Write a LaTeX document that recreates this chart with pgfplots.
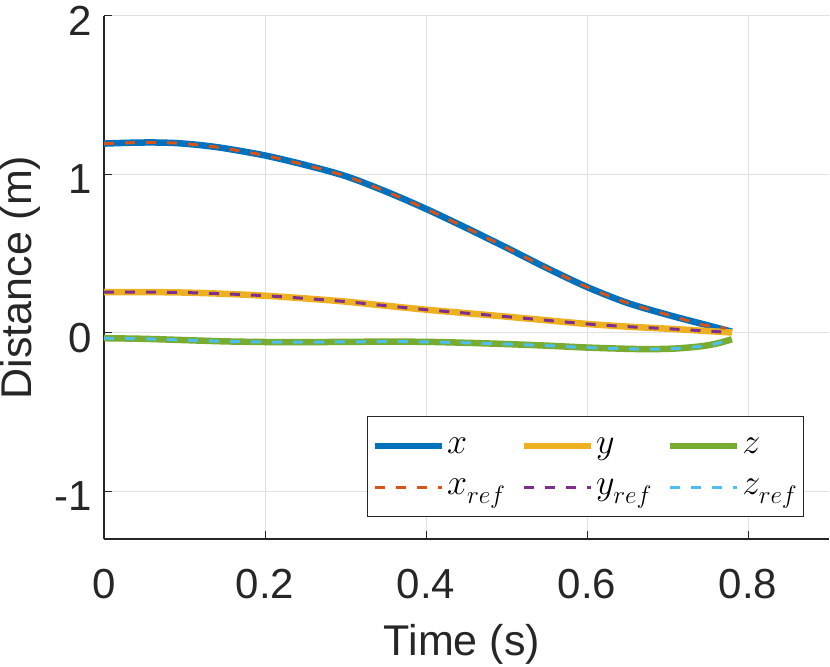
\documentclass[border=0pt]{standalone}
\usepackage{fontspec}
\setmainfont{Liberation Sans}
\DeclareFontShape{OML}{cmm}{m}{it}{<->cmmi12}{}
\usepackage{pgfplots}
\pgfplotsset{compat=1.18}
\definecolor{mblue}{rgb}{0,0.447,0.741}
\definecolor{morange}{rgb}{0.85,0.325,0.098}
\definecolor{myellow}{rgb}{0.929,0.694,0.125}
\definecolor{mpurple}{rgb}{0.494,0.184,0.556}
\definecolor{mgreen}{rgb}{0.466,0.674,0.188}
\definecolor{mcyan}{rgb}{0.301,0.745,0.933}
\definecolor{axgray}{rgb}{0.15,0.15,0.15}

\pgfplotstableread{
t v
0 1.195
0.03 1.200
0.06 1.202
0.09 1.198
0.12 1.185
0.15 1.165
0.2 1.12
0.25 1.06
0.3 0.99
0.35 0.893
0.4 0.783
0.45 0.663
0.5 0.538
0.55 0.41
0.6 0.29
0.65 0.19
0.7 0.115
0.75 0.048
0.78 0.008
}\xdata
\pgfplotstableread{
t v
0 1.195
0.03 1.200
0.06 1.202
0.09 1.198
0.12 1.185
0.15 1.165
0.2 1.12
0.25 1.06
0.3 0.99
0.35 0.893
0.4 0.783
0.45 0.663
0.5 0.538
0.55 0.41
0.6 0.29
0.65 0.19
0.7 0.115
0.745 0.05
0.772 0.03
}\xrefdata
\pgfplotstableread{
t v
0 0.258
0.05 0.258
0.1 0.255
0.15 0.247
0.2 0.235
0.25 0.218
0.3 0.198
0.35 0.172
0.4 0.147
0.45 0.125
0.5 0.103
0.55 0.08
0.6 0.057
0.65 0.04
0.7 0.027
0.75 0.012
0.78 0.003
}\ydata
\pgfplotstableread{
t v
0 -0.033
0.05 -0.037
0.1 -0.045
0.15 -0.053
0.2 -0.057
0.25 -0.058
0.3 -0.056
0.35 -0.055
0.4 -0.056
0.45 -0.062
0.5 -0.07
0.55 -0.08
0.6 -0.092
0.65 -0.1
0.68 -0.102
0.71 -0.098
0.74 -0.085
0.76 -0.068
0.78 -0.04
}\zdata

\begin{document}
\begin{tikzpicture}
\begin{axis}[
  scale only axis,
  width=724.5pt, height=523pt,
  xmin=0, xmax=0.9, ymin=-1.3, ymax=2,
  axis x line*=bottom, axis y line*=left,
  axis line style={axgray, line width=1.2pt},
  xtick={0,0.2,0.4,0.6,0.8}, xticklabels={0,0.2,0.4,0.6,0.8},
  ytick={-1,0,1,2}, yticklabels={-1,0,1,2},
  tick align=inside, major tick length=8pt,
  tick style={axgray, line width=1pt},
  grid=major, major grid style={black!12, line width=1pt},
  xticklabel style={font=\fontsize{42}{50}\selectfont, text=axgray, anchor=base, inner sep=0pt, yshift=-59pt},
  yticklabel style={font=\fontsize{42}{50}\selectfont, text=axgray, anchor=east, inner sep=0pt, xshift=-12pt, yshift=-5pt},
  xlabel={Time (s)}, ylabel={Distance (m)},
  xlabel style={font=\fontsize{43}{50}\selectfont, text=axgray, at={(axis description cs:0.494,-0.2218)}, anchor=base, inner sep=0pt},
  ylabel style={font=\fontsize{43}{50}\selectfont, text=axgray, at={(axis description cs:-0.1435,0.5)}, anchor=north, inner sep=0pt},
  legend columns=3,
  legend cell align=left,
  legend image code/.code={\draw[#1] (0pt,0pt) -- (67pt,0pt);},
  legend style={at={(rel axis cs:0.363,0.235)}, anchor=north west,
    draw=axgray, line width=1pt, fill=white,
    font=\fontsize{36}{40}\selectfont,
    inner xsep=4pt, inner ysep=19pt, row sep=20pt,
    /tikz/every even column/.append style={column sep=13pt}},
  every axis plot/.append style={smooth},
]
\addplot[mblue, line width=6.5pt] table[x=t,y=v] {\xdata};
\addlegendentry{$x$}
\addplot[myellow, line width=6.5pt] table[x=t,y=v] {\ydata};
\addlegendentry{$y$}
\addplot[mgreen, line width=6.5pt] table[x=t,y=v] {\zdata};
\addlegendentry{$z$}
\addplot[morange, line width=3pt, dash pattern=on 10pt off 11pt] table[x=t,y=v] {\xrefdata};
\addlegendentry{$x_{ref}$}
\addplot[mpurple, line width=3pt, dash pattern=on 10pt off 11pt] table[x=t,y=v] {\ydata};
\addlegendentry{$y_{ref}$}
\addplot[mcyan, line width=3pt, dash pattern=on 10pt off 11pt] table[x=t,y=v] {\zdata};
\addlegendentry{$z_{ref}$}
\coordinate (bl) at (rel axis cs:0,0);
\coordinate (tr) at (rel axis cs:1,1);
\end{axis}
\pgfresetboundingbox
\path ([shift={(-104pt,-127pt)}]bl) rectangle ([shift={(1.5pt,16pt)}]tr);
\end{tikzpicture}
\end{document}
